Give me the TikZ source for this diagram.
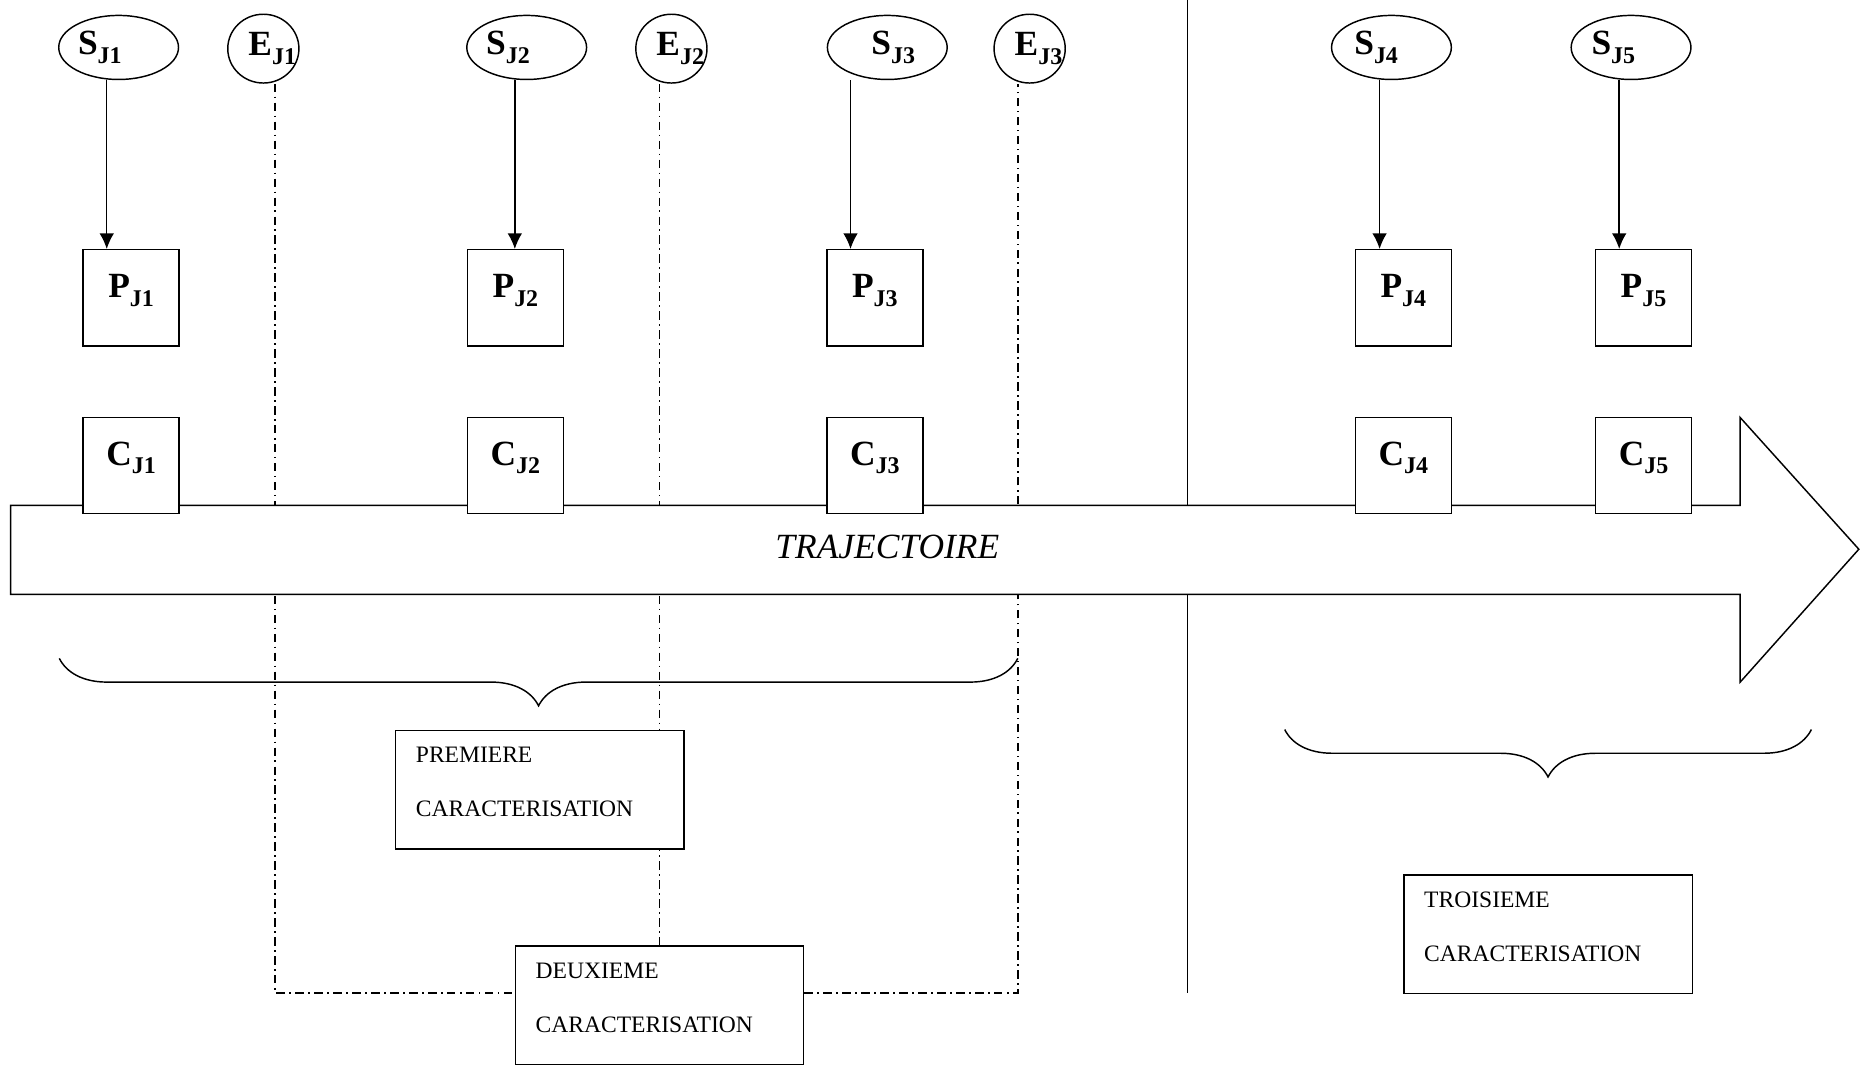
\documentclass[tikz,border=0pt]{standalone}
\usepackage{fontspec}
\setmainfont{Liberation Serif}
\usetikzlibrary{calc,shapes,arrows.meta,decorations.pathreplacing}

\newcommand{\jlabel}[2]{#1\raisebox{-4pt}{\fontsize{11.5}{12}\selectfont J#2}}

\begin{document}
\begin{tikzpicture}[x=0.02cm,y=-0.02cm,line width=0.7pt,
  lab/.style={font=\bfseries\fontsize{17}{20}\selectfont},
  sbox/.style={lab,draw,ellipse,minimum width=2.02cm,minimum height=1.08cm,inner sep=0pt},
  ebox/.style={lab,draw,ellipse,minimum width=1.2cm,minimum height=1.16cm,inner sep=0pt},
  jbox/.style={lab,draw,fill=white,minimum width=1.62cm,minimum height=1.62cm,
    inner sep=0pt,text height=0.3cm,text depth=0.3cm},
  cbox/.style={draw,fill=white,minimum width=4.86cm,minimum height=2.0cm,
    anchor=north west,inner sep=0pt},
  ctext/.style={anchor=north west,inner sep=0pt,align=left,
    font=\fontsize{11.3}{25.6}\selectfont},
  dashdot/.style={dash pattern=on 4pt off 2.2pt on 0.7pt off 2.2pt},
  arr/.style={-{Latex[length=7.5pt,width=7pt]}},
  brc/.style={decorate,decoration={brace,amplitude=0.8cm}}]
  \useasboundingbox (0,0) rectangle (1568,899);

  %% Top row: S and E ellipses, P boxes
  \foreach \n/\x/\sh/\a in {1/100/-18/90,2/444/-18/434,3/748/5.7/717,4/1173/-14.7/1163,5/1375/-17/1365}
  {
    \node[sbox] (S\n) at (\x,40) {\makebox[0pt]{\hspace*{\sh pt}\jlabel{S}{\n}}};
    \coordinate (A\n) at (\a,0);
  }
  \foreach \n/\x in {1/222,2/566,3/868}
  {
    \node[ebox] (E\n) at (\x,41) {\makebox[0pt]{\hspace*{8.5pt}\jlabel{E}{\n}}};
  }
  \foreach \n/\x in {1/110.5,2/434.5,3/737.5,4/1183,5/1385.5}
  {
    \node[jbox] (P\n) at (\x,251) {\jlabel{P}{\n}};
    \draw[arr] (S\n.south -| A\n) -- (P\n.north -| A\n);
  }

  %% Separation line
  \coordinate (SEPtop) at (1001,0);
  \coordinate (SEPbot) at (1001,837);
  \draw (SEPtop) -- (SEPbot);

  %% Second characterisation and its frame
  \node[cbox] (DEUX) at (434,797) {};
  \node[ctext] (DEUXtxt) at ($(DEUX.north west)+(17,14.5)$) {DEUXIEME\\CARACTERISATION};
  \coordinate (L1) at (232,837);
  \coordinate (L2) at (556,0);
  \coordinate (L3) at (858,837);
  \draw[dashdot] (E1.south -| L1) -- (L1) -- (L1 -| DEUX.west);
  \draw[dashdot] (DEUX.east |- L3) -- (L3) -- (E3.south -| L3);
  \draw[dashdot] (E2.south -| L2) -- (DEUX.north -| L2);

  %% First characterisation
  \node[cbox] (PREM) at (333,615) {};
  \node[ctext] (PREMtxt) at ($(PREM.north west)+(17,14.5)$) {PREMIERE\\CARACTERISATION};

  %% Trajectory arrow
  \draw[fill=white] (9,426) -- (1467,426) -- (1467,352) -- (1567,463)
    -- (1467,575) -- (1467,501) -- (9,501) -- cycle;
  \node[font=\itshape\fontsize{17}{20}\selectfont] (TRAJ) at (748,461) {TRAJECTOIRE};
  \foreach \n/\x in {1/110.5,2/434.5,3/737.5,4/1183,5/1385.5}
  {
    \node[jbox] (C\n) at (\x,392.5) {\jlabel{C}{\n}};
  }

  %% Braces
  \coordinate (B1a) at (50,555);
  \coordinate (B1b) at (858,555);
  \coordinate (B2a) at (1083,615);
  \coordinate (B2b) at (1527,615);
  \draw[brc] (B1b) -- (B1a);
  \draw[brc] (B2b) -- (B2a);

  %% Third characterisation
  \node[cbox] (TROIS) at (1183,737) {};
  \node[ctext] (TROIStxt) at ($(TROIS.north west)+(17,14.5)$) {TROISIEME\\CARACTERISATION};
\end{tikzpicture}
\end{document}
